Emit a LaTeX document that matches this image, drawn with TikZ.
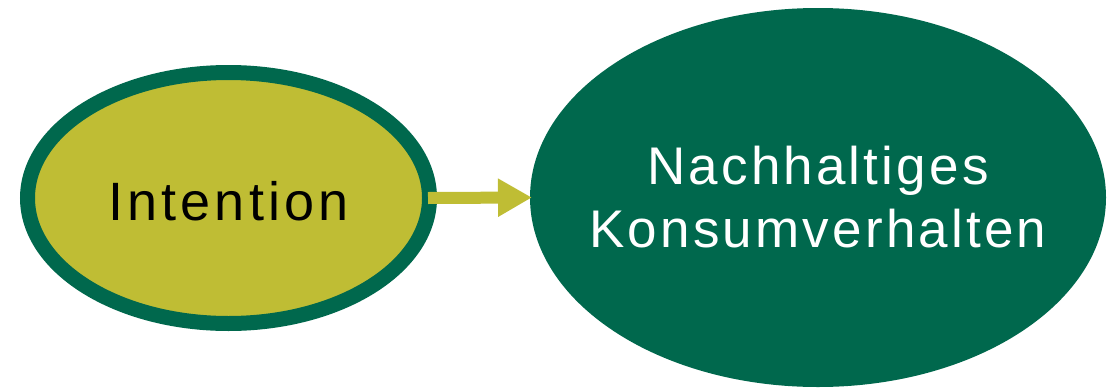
\documentclass[tikz,border=0pt]{standalone}
\usepackage{fontspec}
\setmainfont{Liberation Sans}
\newfontfamily\leftfont[LetterSpace=7.5]{Liberation Sans}
\newfontfamily\rightfont[LetterSpace=6]{Liberation Sans}
\usetikzlibrary{shapes.geometric,arrows.meta}
\definecolor{olive}{RGB}{191,189,52}
\definecolor{deepgreen}{RGB}{0,104,77}
\tikzset{
  smallbubble/.style={ellipse, draw=deepgreen, line width=15pt, fill=olive,
    inner sep=0pt, minimum width=402pt, minimum height=251pt,
    font=\leftfont\fontsize{54}{64}\selectfont, text=black,
    text height=44pt, text depth=0pt},
  bigbubble/.style={ellipse, fill=deepgreen, inner xsep=-60pt, inner ysep=0pt,
    outer sep=0pt, minimum width=576pt, minimum height=379pt, align=center,
    font=\rightfont\fontsize{53}{63}\selectfont, text=white},
  flowarrow/.style={draw=olive, line width=12pt,
    -{Triangle[length=34pt,width=36pt]}}
}
\begin{document}
\begin{tikzpicture}[x=1pt,y=-1pt]
  \useasboundingbox (0,0) rectangle (1107,388);
  % intention and behaviour
  \node[smallbubble] (intent) at (228.5,198) {Intention};
  \node[bigbubble] (behav) at (818,197.5) {Nachhaltiges\\Konsumverhalten};
  % causal link
  \draw[flowarrow] ([xshift=-9pt]intent.east) -- ([xshift=2pt]behav.west);
\end{tikzpicture}
\end{document}
